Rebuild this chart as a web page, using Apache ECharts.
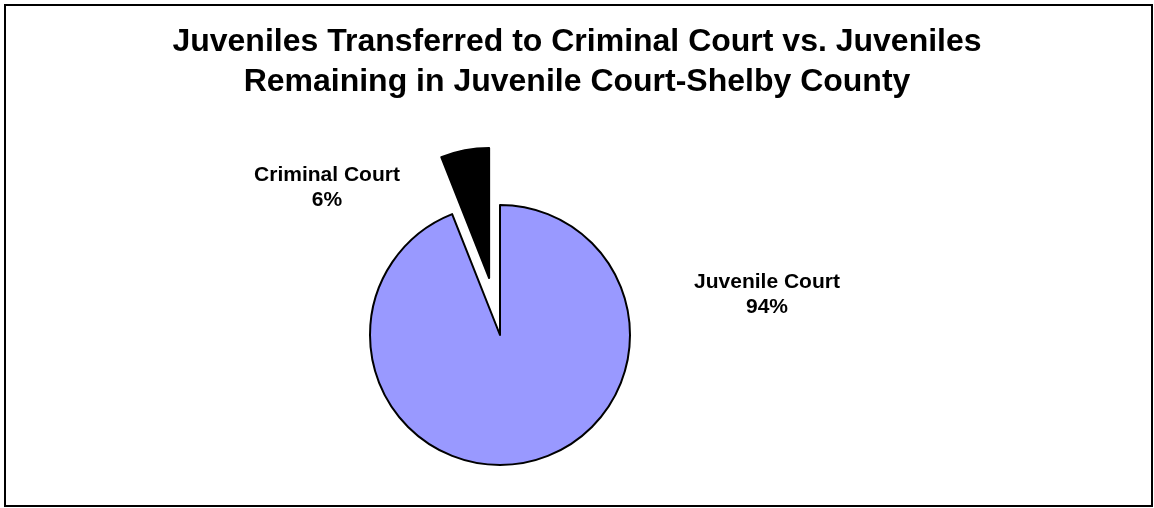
<!DOCTYPE html>
<html>
<head>
<meta charset="utf-8">
<script src="https://cdn.jsdelivr.net/npm/echarts@6/dist/echarts.min.js"></script>
<style>
  html, body { margin: 0; padding: 0; background: #fff; }
</style>
</head>
<body>
<div id="chart" style="width: 1154px; height: 508px"></div>
<script>
// data
const categories = ['Juvenile Court', 'Criminal Court'];
const values = [94, 6];
const colors = ['#9999FF', '#000000'];
const exploded = [false, true];

// label anchor positions (style only)
const labelPos = [
  { x: 767, y: 295 },
  { x: 327, y: 188 }
];

const chart = echarts.init(document.getElementById('chart'));

const total = values.reduce((a, b) => a + b, 0);

const labelFont = {
  fontFamily: 'Liberation Sans, Arial, sans-serif',
  fontWeight: 'bold',
  fontSize: 21,
  lineHeight: 25,
  fill: '#000',
  align: 'center',
  verticalAlign: 'middle'
};

const option = {
  backgroundColor: '#fff',
  animation: false,
  title: {
    text: 'Juveniles Transferred to Criminal Court vs. Juveniles\nRemaining in Juvenile Court-Shelby County',
    left: 'center',
    top: 22,
    padding: 0,
    textStyle: {
      fontFamily: 'Liberation Sans, Arial, sans-serif',
      fontWeight: 'bold',
      fontSize: 32,
      lineHeight: 40,
      color: '#000'
    }
  },
  graphic: [{
    type: 'rect',
    shape: { x: 5, y: 5, width: 1147, height: 501 },
    style: { fill: 'none', stroke: '#000', lineWidth: 2 },
    silent: true
  }].concat(categories.map((name, i) => ({
    type: 'text',
    x: labelPos[i].x,
    y: labelPos[i].y,
    silent: true,
    style: Object.assign({
      text: name + '\n' + Math.round(values[i] / total * 100) + '%'
    }, labelFont)
  }))),
  series: [{
    type: 'pie',
    center: [500, 335],
    radius: 130,
    startAngle: 90,
    clockwise: true,
    silent: true,
    selectedMode: 'single',
    selectedOffset: 58,
    itemStyle: { borderColor: '#000', borderWidth: 2 },
    emphasis: { disabled: true, scale: false },
    label: { show: false },
    labelLine: { show: false },
    data: categories.map((name, i) => ({
      name: name,
      value: values[i],
      selected: exploded[i],
      itemStyle: { color: colors[i] },
      select: { itemStyle: { color: colors[i], borderColor: '#000', borderWidth: 2 } }
    }))
  }]
};

chart.setOption(option);
</script>
</body>
</html>
